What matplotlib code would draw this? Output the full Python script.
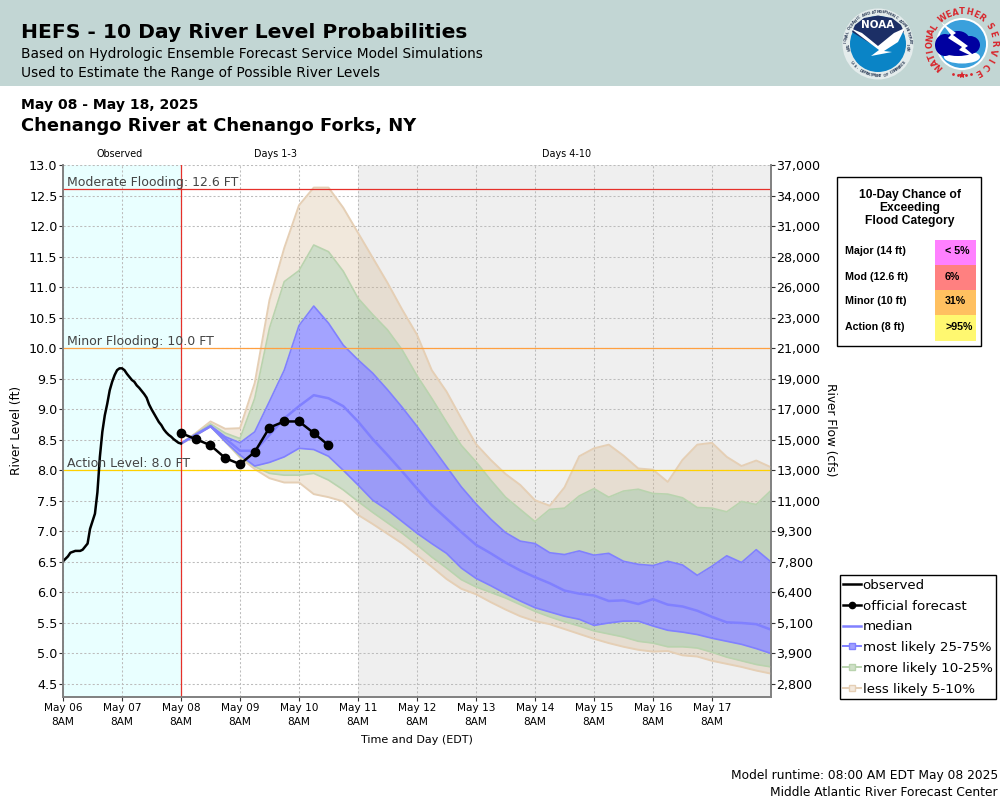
import numpy as np
import matplotlib.pyplot as plt
from matplotlib.lines import Line2D
from matplotlib.patches import Circle, Ellipse, Polygon, Rectangle

# observed stage, hours since May 06 8AM
obs_hours = [0, 2, 3, 5, 7, 8, 10, 11, 13, 14, 15, 16, 17, 18, 19, 20, 21, 22, 23, 24, 25, 26, 27, 28, 29, 30,
             31, 32, 33, 34, 35, 36, 37, 38, 39, 40, 41, 42, 43, 44, 45, 46, 47, 48]
obs_level = [6.51, 6.59, 6.65, 6.68, 6.68, 6.70, 6.80, 7.04, 7.29, 7.64, 8.22, 8.63, 8.90, 9.09, 9.31, 9.45,
             9.56, 9.64, 9.67, 9.67, 9.64, 9.58, 9.53, 9.48, 9.45, 9.39, 9.35, 9.30, 9.25, 9.19, 9.08, 9.00,
             8.93, 8.86, 8.79, 8.74, 8.67, 8.62, 8.58, 8.55, 8.51, 8.48, 8.45, 8.44]

official = [8.61, 8.51, 8.41, 8.20, 8.10, 8.30, 8.70, 8.80, 8.80, 8.61, 8.41]

# ensemble percentiles, 6 hourly from May 08 8AM
p95 = [8.44, 8.61, 8.80, 8.68, 8.69, 9.43, 10.79, 11.64, 12.34, 12.63, 12.63, 12.30, 11.89, 11.48, 11.07, 10.63,
       10.22, 9.64, 9.29, 8.85, 8.43, 8.17, 7.94, 7.76, 7.51, 7.42, 7.72, 8.23, 8.36, 8.42, 8.24, 8.03, 8.01,
       7.81, 8.17, 8.42, 8.45, 8.22, 8.07, 8.16, 8.05]
p90 = [8.44, 8.60, 8.76, 8.61, 8.52, 9.18, 10.33, 11.09, 11.27, 11.69, 11.58, 11.26, 10.82, 10.55, 10.30, 9.97,
       9.55, 9.18, 8.79, 8.41, 8.14, 7.84, 7.56, 7.36, 7.16, 7.36, 7.38, 7.58, 7.70, 7.56, 7.66, 7.69, 7.62,
       7.61, 7.55, 7.39, 7.38, 7.32, 7.49, 7.44, 7.67]
p75 = [8.44, 8.59, 8.73, 8.55, 8.45, 8.63, 9.13, 9.64, 10.37, 10.69, 10.41, 10.05, 9.81, 9.59, 9.32, 9.03,
       8.72, 8.39, 8.06, 7.73, 7.45, 7.20, 6.98, 6.84, 6.80, 6.65, 6.62, 6.68, 6.61, 6.64, 6.51, 6.46, 6.44,
       6.51, 6.45, 6.28, 6.43, 6.60, 6.49, 6.70, 6.50]
p50 = [8.44, 8.58, 8.72, 8.52, 8.32, 8.32, 8.58, 8.85, 9.05, 9.23, 9.18, 9.05, 8.80, 8.51, 8.25, 7.98,
       7.70, 7.43, 7.21, 6.99, 6.78, 6.64, 6.49, 6.36, 6.25, 6.15, 6.03, 5.98, 5.95, 5.86, 5.87, 5.81, 5.89,
       5.80, 5.77, 5.70, 5.60, 5.51, 5.50, 5.48, 5.39]
p25 = [8.44, 8.58, 8.72, 8.47, 8.25, 8.07, 8.13, 8.22, 8.36, 8.34, 8.23, 8.00, 7.76, 7.51, 7.35, 7.16,
       6.97, 6.80, 6.64, 6.40, 6.23, 6.11, 5.98, 5.86, 5.75, 5.68, 5.61, 5.56, 5.46, 5.50, 5.53, 5.53, 5.45,
       5.38, 5.35, 5.31, 5.25, 5.20, 5.15, 5.08, 5.00]
p10 = [8.44, 8.58, 8.72, 8.47, 8.23, 8.06, 7.95, 7.92, 7.92, 7.95, 7.84, 7.68, 7.49, 7.31, 7.14, 6.97,
       6.78, 6.58, 6.40, 6.21, 6.09, 6.00, 5.91, 5.80, 5.69, 5.60, 5.52, 5.45, 5.37, 5.32, 5.27, 5.20, 5.17,
       5.11, 5.11, 5.09, 5.02, 4.94, 4.88, 4.82, 4.78]
p5 = [8.43, 8.57, 8.72, 8.47, 8.21, 8.02, 7.87, 7.80, 7.80, 7.61, 7.56, 7.49, 7.27, 7.12, 6.96, 6.80,
      6.61, 6.42, 6.22, 6.06, 5.97, 5.84, 5.72, 5.61, 5.53, 5.48, 5.40, 5.32, 5.24, 5.17, 5.11, 5.06, 5.03,
      5.04, 4.97, 4.95, 4.88, 4.83, 4.78, 4.72, 4.67]

level_ticks = [4.5, 5.0, 5.5, 6.0, 6.5, 7.0, 7.5, 8.0, 8.5, 9.0, 9.5, 10.0, 10.5, 11.0, 11.5, 12.0, 12.5, 13.0]
flow_labels = ['2,800', '3,900', '5,100', '6,400', '7,800', '9,300', '11,000', '13,000', '15,000', '17,000',
               '19,000', '21,000', '23,000', '26,000', '28,000', '31,000', '34,000', '37,000']
day_labels = ['May 06', 'May 07', 'May 08', 'May 09', 'May 10', 'May 11', 'May 12', 'May 13', 'May 14',
              'May 15', 'May 16', 'May 17']

flood_cats = ['Major (14 ft)', 'Mod (12.6 ft)', 'Minor (10 ft)', 'Action (8 ft)']
flood_chance = ['< 5%', '6%', '31%', '>95%']
flood_colors = ['#ff80ff', '#ff8080', '#ffc060', '#fff870']

BLUE = '#8080ff'
GREEN = '#b9d3ae'
TAN = '#e5cfb5'
RED_LINE = '#e6302a'

fig = plt.figure(figsize=(10, 8), dpi=100)

# full figure overlay in pixel coords for the header, logos and boxes
page = fig.add_axes([0, 0, 1, 1])
page.set_xlim(0, 1000)
page.set_ylim(800, 0)
page.axis('off')
page.add_patch(Rectangle((0, 0), 1000, 86, color='#c2d6d4', lw=0))

page.text(21, 33, 'HEFS - 10 Day River Level Probabilities', fontsize=14.6, fontweight='bold', va='center')
page.text(21, 54, 'Based on Hydrologic Ensemble Forecast Service Model Simulations', fontsize=9.88, va='center')
page.text(21, 73, 'Used to Estimate the Range of Possible River Levels', fontsize=9.88, va='center')
page.text(21, 105, 'May 08 - May 18, 2025', fontsize=10.1, fontweight='bold', va='center')
page.text(21, 126, 'Chenango River at Chenango Forks, NY', fontsize=12.9, fontweight='bold', va='center')


def ring_text(s, cx, cy, r, start, stop, color, size, flip=True):
    # letters along a circle, angles in degrees clockwise from 12 o'clock
    for ch, a in zip(s, np.linspace(start, stop, len(s))):
        t = np.radians(a)
        rot = -a
        if flip and 90 < a % 360 < 270:
            rot = 180 - a
        page.text(cx + r * np.sin(t), cy - r * np.cos(t), ch, fontsize=size, color=color, rotation=rot,
                  ha='center', va='center', rotation_mode='anchor', fontweight='bold')


# NOAA logo
page.add_patch(Circle((878, 44), 35.5, color='#e4ecec', lw=0))
page.add_patch(Circle((878, 44), 28, color='#0a84c6', lw=0))
page.add_patch(Polygon([[855, 25], [864, 18], [878, 15.5], [892, 18], [901, 25], [904, 32], [888, 42], [878, 47],
                        [868, 42], [852, 32]], color='#1c2f66', lw=0))
page.add_patch(Polygon([[850, 28], [862, 33], [878, 46], [894, 33], [905, 28], [898, 42], [884, 51], [892, 52],
                        [871, 56], [879, 50]], color='white', lw=0))
page.text(878, 25.5, 'NOAA', color='white', fontsize=7.5, fontweight='bold', ha='center', va='center')
ring_text('NATIONAL OCEANIC AND ATMOSPHERIC ADMINISTRATION', 878, 44, 32, -100, 100, '#30405a', 2.6)
ring_text('U.S. DEPARTMENT OF COMMERCE', 878, 44, 32, 235, 125, '#30405a', 2.6)

# NWS logo
page.add_patch(Circle((962, 44), 26, color='white', lw=0))
page.add_patch(Circle((962, 44), 24, color='#3aa0dc', lw=0))
page.add_patch(Ellipse((962, 57), 36, 13, color='white', lw=0))
for x, y, w, h in [(945, 45, 20, 22), (958, 41, 24, 20), (970, 45, 20, 18), (958, 49, 38, 14)]:
    page.add_patch(Ellipse((x, y), w, h, color='#0000a0', lw=0))
page.add_patch(Polygon([[941, 22], [956, 33], [953, 35], [968, 46], [965, 48], [978, 59], [959, 50], [962, 47],
                        [948, 38], [951, 35]], color='white', lw=0))
ring_text('NATIONAL', 962, 44, 32, -135, -58, '#d8262c', 6, flip=False)
ring_text('WEATHER', 962, 44, 32, -36, 37, '#d8262c', 6, flip=False)
ring_text('SERVICE', 962, 44, 32, 57, 150, '#d8262c', 6, flip=False)
for a, m, s in [(164, 'o', 2), (172, 'o', 2), (180, '*', 6), (188, 'o', 2), (196, 'o', 2)]:
    t = np.radians(a)
    page.plot(962 + 31 * np.sin(t), 44 - 31 * np.cos(t), m, color='#d8262c', ms=s, mew=0)

# flood category box
page.add_patch(Rectangle((836.5, 176.5), 144, 169, fc='white', ec='black', lw=1))
for i, line in enumerate(['10-Day Chance of', 'Exceeding', 'Flood Category']):
    page.text(910, 195 + i * 13, line, family='Liberation Sans', fontweight='bold',
              fontsize=8.7, ha='center', va='center')
for i in range(4):
    y0 = 240 + i * 25
    page.add_patch(Rectangle((935, y0), 41, 25 + (i == 3), color=flood_colors[i], lw=0))
    page.text(845, y0 + 11.5, flood_cats[i], family='Liberation Sans', fontweight='bold', fontsize=7.7, va='center')
    page.text(945, y0 + 11.5, flood_chance[i], family='Liberation Sans', fontweight='bold', fontsize=7.7, va='center')

page.text(417, 740, 'Time and Day (EDT)', fontsize=8, ha='center', va='center')
page.text(17, 430, 'River Level (ft)', fontsize=8.7, rotation=90, ha='center', va='center')
page.text(831, 430, 'River Flow (cfs)', fontsize=8.7, rotation=270, ha='center', va='center')
page.text(120, 154, 'Observed', fontsize=6.9, ha='center', va='center')
page.text(276, 154, 'Days 1-3', fontsize=6.9, ha='center', va='center')
page.text(567, 154, 'Days 4-10', fontsize=6.9, ha='center', va='center')
page.text(998, 776, 'Model runtime: 08:00 AM EDT May 08 2025', fontsize=8.8, ha='right', va='center')
page.text(998, 792, 'Middle Atlantic River Forecast Center', fontsize=8.8, ha='right', va='center')

# main chart
ax = fig.add_axes([0.063, 1 - 697 / 800, 0.708, (697 - 165) / 800])
ax.patch.set_alpha(0)
y_bottom = 13 - (697 - 165) / 61.06
ax.set_xlim(0, 288)
ax.set_ylim(y_bottom, 13)

ax.axvspan(0, 48, color='#e9ffff', lw=0, zorder=0)
ax.axvspan(120, 288, color='#efefef', lw=0, zorder=0)
ax.grid(True, color='#bcbcbc', ls=(0, (2, 2)), lw=0.75, zorder=1)
ax.set_axisbelow(True)

fc_hours = 48 + 6 * np.arange(len(p50))
ax.fill_between(fc_hours, p5, p10, color='#d2b48c', alpha=0.3, lw=0, zorder=2)
ax.fill_between(fc_hours, p90, p95, color='#d2b48c', alpha=0.3, lw=0, zorder=2)
ax.fill_between(fc_hours, p10, p25, color='#6d9a5c', alpha=0.33, lw=0, zorder=2)
ax.fill_between(fc_hours, p75, p90, color='#6d9a5c', alpha=0.33, lw=0, zorder=2)
ax.fill_between(fc_hours, p25, p75, color='#4848ff', alpha=0.5, lw=0, zorder=2)
for band in (p5, p95):
    ax.plot(fc_hours, band, color=TAN, lw=1.4, zorder=3)
for band in (p10, p90):
    ax.plot(fc_hours, band, color=GREEN, lw=1.2, zorder=3)
for band in (p25, p75):
    ax.plot(fc_hours, band, color=BLUE, lw=1.2, zorder=3)
ax.plot(fc_hours, p50, color=BLUE, lw=1.8, zorder=4)

ax.axhline(12.6, color=RED_LINE, lw=0.9, zorder=4)
ax.axhline(10.0, color='#ffa040', lw=0.9, zorder=4)
ax.axhline(8.0, color='#ffd000', lw=0.9, zorder=4)
ax.axvline(48, color=RED_LINE, lw=0.9, zorder=4)

ax.plot(obs_hours, obs_level, color='black', lw=1.8, zorder=5)
ax.plot(48 + 6 * np.arange(len(official)), official, color='black', lw=1.8, marker='o', ms=6, zorder=6)

for label, y in [('Moderate Flooding: 12.6 FT', 12.6), ('Minor Flooding: 10.0 FT', 10.0), ('Action Level: 8.0 FT', 8.0)]:
    ax.text(1.6, y, label, fontsize=9, color='#444444', va='bottom', zorder=7)

ax.set_xticks(24 * np.arange(len(day_labels)))
ax.set_xticklabels([d + '\n8AM' for d in day_labels], fontsize=7.6, linespacing=1.5)
ax.set_yticks(level_ticks)
ax.set_yticklabels(['%.1f' % v for v in level_ticks], fontsize=9.2)
ax.tick_params(length=3, width=0.8, color='#333333', pad=1)

ax2 = ax.twinx()
ax2.set_ylim(ax.get_ylim())
ax2.set_yticks(level_ticks)
ax2.set_yticklabels(flow_labels, fontsize=9.1)
ax2.tick_params(length=3, width=0.8, color='#333333', pad=1)

for a in (ax, ax2):
    a.spines['top'].set_visible(False)
    for side in ('left', 'right', 'bottom'):
        a.spines[side].set_color('#808080')
        a.spines[side].set_linewidth(1.2)

handles = [
    Line2D([], [], color='black', lw=1.8),
    Line2D([], [], color='black', lw=1.8, marker='o', ms=4.5),
    Line2D([], [], color=BLUE, lw=1.8),
    Line2D([], [], color=BLUE, lw=1.4, marker='s', ms=5, mfc='#a0a0ff', mec=BLUE),
    Line2D([], [], color=GREEN, lw=1.4, marker='s', ms=5, mfc='#cfe0c8', mec=GREEN),
    Line2D([], [], color=TAN, lw=1.4, marker='s', ms=5, mfc='#f3e9dd', mec=TAN),
]
names = ['observed', 'official forecast', 'median', 'most likely 25-75%', 'more likely 10-25%', 'less likely 5-10%']
leg = fig.legend(handles, names, loc='upper left', bbox_to_anchor=(0.8395, 1 - 575 / 800), fontsize=9.65, fancybox=False,
                 edgecolor='black', framealpha=1, handlelength=1.3, handletextpad=0.15, labelspacing=0.58,
                 borderpad=0.28, borderaxespad=0)
leg.get_frame().set_linewidth(1)

plt.savefig('out.png', dpi=100)
